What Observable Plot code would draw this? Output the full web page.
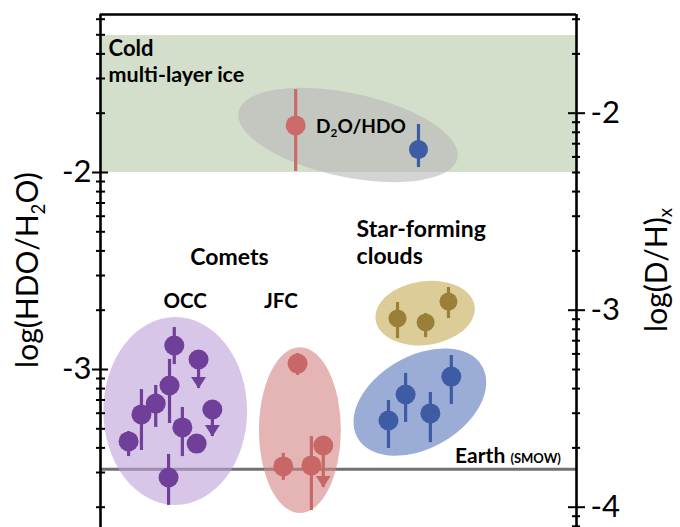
<!DOCTYPE html>
<html><head><meta charset="utf-8">
<script src="https://cdn.jsdelivr.net/npm/d3@7"></script>
<script src="https://cdn.jsdelivr.net/npm/@observablehq/plot@0.6"></script>
<style>html,body{margin:0;padding:0;background:#fff;overflow:hidden}</style>
</head><body><div id="chart"></div>
<script>
// ---------- scales / constants ----------
const xDomain = [0, 10];            // abstract horizontal position of the groups
const yDomain = [-3.802, -1.198];   // log(HDO/H2O)
const LOG2 = Math.log10(2);         // log(HDO/H2O) = log(D/H) + log 2

// ---------- axis ticks ----------
const leftMajor = [-3, -2];
const leftLabels = ["-3", "-2"];
const rightMajorDH = [-4, -3, -2];          // in log(D/H)
const rightLabels = ["-4", "-3", "-2"];
const decades = [-5, -4, -3, -2];
const mult = [2, 3, 4, 5, 6, 7, 8, 9];
const inY = v => v >= yDomain[0] && v <= yDomain[1];
const leftMinor = decades.flatMap(d => mult.map(k => d + Math.log10(k))).filter(inY);
const rightMinor = decades.flatMap(d => mult.map(k => d + Math.log10(k) + LOG2)).filter(inY);
const rightMajor = rightMajorDH.map(v => v + LOG2);

// ---------- reference levels ----------
const coldIceBand = [{y1: -2.0, y2: -1.305}];
const earthSMOW = [-3.506];

// ---------- group ellipses ----------
const ellipses = [
  {name: "D2O/HDO",  cx: 5.21, cy: -1.812, rx: 2.35, ry: 0.213, angle: 12,  fill: "rgb(183,183,183)", opacity: 0.6},
  {name: "OCC",      cx: 1.58, cy: -3.213, rx: 1.51, ry: 0.477, angle: 0,   fill: "rgb(190,160,217)", opacity: 0.6},
  {name: "JFC",      cx: 4.20, cy: -3.310, rx: 0.86, ry: 0.421, angle: 0,   fill: "rgb(212,132,132)", opacity: 0.6},
  {name: "Clouds1",  cx: 6.83, cy: -2.716, rx: 1.05, ry: 0.162, angle: -8,  fill: "rgb(197,172,83)",  opacity: 0.6},
  {name: "Clouds2",  cx: 6.72, cy: -3.168, rx: 1.51, ry: 0.234, angle: -30, fill: "rgb(88,118,188)",  opacity: 0.6}
];

// ---------- measurements (x, value, error low, error high) ----------
const d2oRed  = [{x: 4.10, y: -1.761, lo: -1.995, hi: -1.579}];
const d2oBlue = [{x: 6.68, y: -1.883, lo: -1.975, hi: -1.756}];
const occ = [
  {x: 1.55, y: -2.878, lo: -2.975, hi: -2.787},
  {x: 1.45, y: -3.081, lo: -3.274, hi: -2.949},
  {x: 1.16, y: -3.173, lo: -3.294, hi: -3.081},
  {x: 0.86, y: -3.228, lo: -3.411, hi: -3.102},
  {x: 1.72, y: -3.294, lo: -3.442, hi: -3.193},
  {x: 0.59, y: -3.365, lo: -3.442, hi: -3.315},
  {x: 2.02, y: -3.376, lo: -3.376, hi: -3.376},
  {x: 1.43, y: -3.548, lo: -3.690, hi: -3.431}
];
const occLimits = [
  {x: 2.06, y: -2.949, tip: -3.096},
  {x: 2.35, y: -3.203, tip: -3.340}
];
const jfc = [
  {x: 4.14, y: -2.970, lo: -3.030, hi: -2.919},
  {x: 3.84, y: -3.492, lo: -3.563, hi: -3.426},
  {x: 4.43, y: -3.487, lo: -3.716, hi: -3.340}
];
const jfcLimits = [{x: 4.68, y: -3.386, tip: -3.599}];
const cloudsTan = [
  {x: 6.24, y: -2.741, lo: -2.843, hi: -2.660},
  {x: 6.83, y: -2.761, lo: -2.838, hi: -2.716},
  {x: 7.31, y: -2.655, lo: -2.741, hi: -2.584}
];
const cloudsBlue = [
  {x: 6.05, y: -3.259, lo: -3.401, hi: -3.157},
  {x: 6.41, y: -3.127, lo: -3.269, hi: -3.020},
  {x: 6.93, y: -3.223, lo: -3.371, hi: -3.117},
  {x: 7.37, y: -3.036, lo: -3.178, hi: -2.929}
];

// ---------- labels ----------
const startLabels = [
  {text: "Cold",            x: 0.17, y: -1.372, size: 22},
  {text: "multi-layer ice", x: 0.17, y: -1.504, size: 21.5},
  {text: "Star-forming",    x: 5.38, y: -2.289, size: 23},
  {text: "clouds",          x: 5.38, y: -2.426, size: 23}
];
const middleLabels = [
  {text: "Comets",          x: 2.71, y: -2.431, size: 23},
  {text: "OCC",             x: 1.78, y: -2.655, size: 20.5},
  {text: "JFC",             x: 3.79, y: -2.655, size: 20.5}
];

const FONT = "Lato, 'Open Sans', 'DejaVu Sans', sans-serif";

// ---------- helper marks ----------
const ellipseMark = data => (index, scales) => {
  const g = d3.create("svg:g");
  for (const e of data) {
    const cx = scales.x(e.cx), cy = scales.y(e.cy);
    const rx = Math.abs(scales.x(e.cx + e.rx) - cx);
    const ry = Math.abs(scales.y(e.cy + e.ry) - cy);
    g.append("ellipse").attr("cx", cx).attr("cy", cy).attr("rx", rx).attr("ry", ry)
      .attr("transform", `rotate(${e.angle} ${cx} ${cy})`)
      .attr("fill", e.fill).attr("fill-opacity", e.opacity);
  }
  return g.node();
};

const richText = spec => (index, scales) => {
  const X = spec.px ?? scales.x(spec.x), Y = spec.py ?? scales.y(spec.y);
  const t = d3.create("svg:text")
    .attr("transform", `translate(${X},${Y}) rotate(${spec.rotate || 0})`)
    .attr("text-anchor", spec.anchor || "start")
    .attr("font-family", FONT).attr("font-weight", spec.weight || "normal")
    .attr("font-size", spec.size).attr("fill", "#000");
  let shift = 0;
  for (const p of spec.parts) {
    const s = p.size || (p.sub ? spec.size * 0.62 : spec.size);
    const target = p.sub ? spec.size * (spec.subShift ?? 0.22) : 0;
    t.append("tspan").attr("font-size", s).attr("dy", target - shift).text(p.t);
    shift = target;
  }
  return t.node();
};

const downTriangle = {
  draw(ctx, size) {
    const r = Math.sqrt(size / Math.PI);
    const w = 0.75 * r, h = 1.15 * r;
    ctx.moveTo(-w, -h); ctx.lineTo(w, -h); ctx.lineTo(0, 0); ctx.closePath();
  }
};

const pointsWithBars = (data, color, r) => [
  Plot.ruleX(data, {x: "x", y1: "lo", y2: "hi", stroke: color, strokeWidth: 3.2}),
  Plot.dot(data, {x: "x", y: "y", r, fill: color})
];
const upperLimits = (data, color, r) => [
  Plot.ruleX(data, {x: "x", y1: "y", y2: "tip", stroke: color, strokeWidth: 3.2}),
  Plot.dot(data, {x: "x", y: "tip", r: 10, symbol: downTriangle, fill: color}),
  Plot.dot(data, {x: "x", y: "y", r, fill: color})
];

const W = 680, H = 527, ML = 100, MR = 104, MT = 14, MB = 0;
const FW = W - ML - MR;

const purple = "#6f3f99", red = "#c96767", tan = "#9a7f38", blue = "#3e5ca3";

const chart = Plot.plot({
  width: W, height: H,
  marginLeft: ML, marginRight: MR, marginTop: MT, marginBottom: MB,
  x: {domain: xDomain, axis: null},
  y: {domain: yDomain, axis: null},
  style: {fontFamily: FONT, background: "#fff", overflow: "visible"},
  marks: [
    Plot.rect(coldIceBand, {x1: xDomain[0], x2: xDomain[1], y1: "y1", y2: "y2", fill: "#d4dfcb"}),
    Plot.ruleY(earthSMOW, {stroke: "#707070", strokeWidth: 3}),
    ellipseMark(ellipses),
    // frame lines
    Plot.ruleX([xDomain[0], xDomain[1]], {stroke: "#000", strokeWidth: 2.6}),
    Plot.ruleY([yDomain[1]], {stroke: "#000", strokeWidth: 2.4}),
    // left ticks
    Plot.ruleY(leftMinor, {stroke: "#000", strokeWidth: 2, insetLeft: -4, insetRight: FW - 5}),
    Plot.ruleY(leftMajor, {stroke: "#000", strokeWidth: 2, insetLeft: -8, insetRight: FW - 8}),
    Plot.text(leftMajor, {y: d => d, text: (d, i) => leftLabels[i], frameAnchor: "left", textAnchor: "end", dx: -9, fontSize: 31, fill: "#000"}),
    // right ticks
    Plot.ruleY(rightMinor, {stroke: "#000", strokeWidth: 2, insetLeft: FW - 4, insetRight: -4}),
    Plot.ruleY(rightMajor, {stroke: "#000", strokeWidth: 2, insetLeft: FW - 8, insetRight: -9}),
    Plot.text(rightMajor, {y: d => d, text: (d, i) => rightLabels[i], frameAnchor: "right", textAnchor: "start", dx: 14, fontSize: 31, fill: "#000"}),
    // axis titles
    richText({px: 38, py: 270, rotate: -90, anchor: "middle", size: 30,
      parts: [{t: "log(HDO/H"}, {t: "2", sub: true}, {t: "O)"}]}),
    richText({px: 667, py: 270, rotate: -90, anchor: "middle", size: 30, subShift: 0.15,
      parts: [{t: "log(D/H)"}, {t: "x", sub: true}]}),
    // data
    ...pointsWithBars(d2oRed, "#cc6a6a", 10),
    ...pointsWithBars(d2oBlue, blue, 9.5),
    ...pointsWithBars(occ, purple, 10),
    ...upperLimits(occLimits, purple, 10),
    ...pointsWithBars(jfc, red, 10),
    ...upperLimits(jfcLimits, red, 10),
    ...pointsWithBars(cloudsTan, tan, 9),
    ...pointsWithBars(cloudsBlue, blue, 10),
    // labels
    Plot.text(startLabels, {x: "x", y: "y", text: "text", textAnchor: "start", fontSize: "size", fontWeight: "bold", fill: "#000"}),
    Plot.text(middleLabels, {x: "x", y: "y", text: "text", textAnchor: "middle", fontSize: "size", fontWeight: "bold", fill: "#000"}),
    richText({x: 4.54, y: -1.802, size: 19, weight: "bold",
      parts: [{t: "D"}, {t: "2", sub: true}, {t: "O/HDO"}]}),
    richText({x: 7.46, y: -3.477, size: 21, weight: "bold",
      parts: [{t: "Earth "}, {t: "(SMOW)", size: 13}]})
  ]
});
document.getElementById("chart").append(chart);
</script>
</body></html>
